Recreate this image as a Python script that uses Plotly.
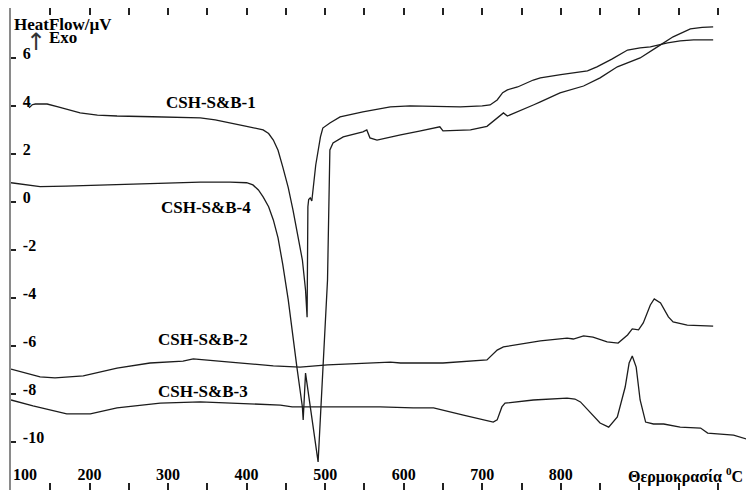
import plotly.graph_objects as go

# ---- data (temperature in °C, heat flow in µV) ----
temp_1 = [123, 127, 131, 146, 160, 175, 188, 210, 235, 280, 341, 360, 379, 400, 421, 428, 434, 440, 446, 453,
          459, 465, 471, 475, 477, 478, 479, 481, 483, 488, 494, 497, 506, 519, 548, 583, 608, 640, 672, 700,
          710, 719, 726, 732, 745, 765, 774, 800, 834, 846, 865, 885, 901, 914, 936, 952, 969, 994]
hf_1 = [3.92, 4.05, 4.08, 4.08, 3.96, 3.83, 3.71, 3.62, 3.58, 3.55, 3.50, 3.42, 3.30, 3.15, 3.00, 2.85, 2.58, 2.15, 1.46, 0.60,
        -0.33, -1.30, -2.42, -3.67, -4.80, -0.20, 0.10, 0.17, 0.04, 1.54, 2.71, 3.08, 3.29, 3.54, 3.75, 3.96, 4.00, 3.98, 3.96, 4.00,
        4.04, 4.25, 4.55, 4.67, 4.79, 5.08, 5.17, 5.30, 5.46, 5.63, 5.95, 6.33, 6.42, 6.46, 6.63, 6.71, 6.75, 6.75]

temp_4 = [100, 120, 137, 170, 213, 280, 341, 379, 400, 408, 415, 421, 428, 434, 440, 446, 453, 464, 471, 472,
          475, 491, 503, 506, 510, 523, 548, 553, 557, 566, 583, 596, 620, 646, 650, 685, 706, 719, 727, 732,
          745, 765, 774, 799, 829, 850, 872, 901, 923, 943, 965, 980, 994]
hf_4 = [0.80, 0.70, 0.64, 0.66, 0.71, 0.78, 0.83, 0.83, 0.80, 0.71, 0.50, 0.21, -0.20, -0.75, -1.50, -2.60, -4.08, -6.88, -8.54, -9.08,
        -7.13, -10.83, -3.25, 2.17, 2.46, 2.71, 2.92, 3.00, 2.67, 2.58, 2.71, 2.79, 2.95, 3.13, 2.96, 3.00, 3.15, 3.50, 3.71, 3.58,
        3.75, 4.04, 4.17, 4.54, 4.83, 5.17, 5.63, 6.00, 6.46, 6.88, 7.21, 7.27, 7.29]

temp_2 = [100, 137, 156, 192, 235, 277, 319, 332, 379, 434, 468, 503, 583, 596, 650, 706, 719, 727, 774, 808,
          816, 829, 841, 859, 873, 885, 891, 899, 905, 914, 919, 927, 937, 943, 961, 994]
hf_2 = [-6.96, -7.29, -7.33, -7.25, -6.92, -6.71, -6.63, -6.54, -6.67, -6.83, -6.88, -6.79, -6.67, -6.71, -6.71, -6.58, -6.17, -6.04, -5.79, -5.67,
        -5.71, -5.58, -5.63, -5.83, -5.88, -5.54, -5.29, -5.33, -5.04, -4.29, -4.04, -4.21, -4.79, -5.00, -5.13, -5.17]

temp_3 = [100, 128, 171, 201, 235, 264, 290, 341, 443, 458, 570, 612, 638, 676, 714, 719, 725, 729, 765, 808,
          818, 825, 838, 850, 861, 872, 882, 887, 891, 896, 901, 908, 918, 931, 952, 978, 987, 1020, 1045]
hf_3 = [-8.25, -8.50, -8.83, -8.83, -8.58, -8.46, -8.38, -8.33, -8.46, -8.54, -8.54, -8.58, -8.58, -8.88, -9.17, -9.08, -8.54, -8.38, -8.25, -8.17,
        -8.21, -8.33, -8.79, -9.21, -9.38, -8.96, -7.71, -6.71, -6.42, -6.88, -8.25, -9.17, -9.25, -9.25, -9.38, -9.42, -9.63, -9.71, -9.96]

series_names = ["CSH-S&B-1", "CSH-S&B-4", "CSH-S&B-2", "CSH-S&B-3"]
label_temp = [295, 289, 285, 284]
label_hf = [4.15, -0.25, -5.75, -7.9]

x_tick_vals = list(range(100, 1001, 50))
x_tick_text = ["\u00a0" * 7 + "100", "", "200", "", "300", "", "400", "", "500", "", "600", "", "700", "", "800",
               "", "", "", ""]
y_tick_vals = [-10, -8, -6, -4, -2, 0, 2, 4, 6]
y_tick_text = ["-10", "-8", "-6", "-4", "-2", "0", "2", "4", "6"]

y_title = "HeatFlow/µV"
exo_text = "Exo"
x_title = "Θερμοκρασία <sup>0</sup>C"

FONT = "Liberation Serif"
LINE = "#1c1c1c"

fig = go.Figure()
for t, v in [(temp_1, hf_1), (temp_4, hf_4), (temp_2, hf_2), (temp_3, hf_3)]:
    fig.add_trace(go.Scatter(x=t, y=v, mode="lines", line=dict(color=LINE, width=1.3), hoverinfo="skip"))

for name, lt, lh in zip(series_names, label_temp, label_hf):
    fig.add_annotation(x=lt, y=lh, xref="x", yref="y", text=name, showarrow=False,
                       xanchor="left", yanchor="middle",
                       font=dict(family=FONT, size=17, color="black", weight="bold"))

fig.add_annotation(x=0.002, y=0.966, xref="paper", yref="paper", text=y_title, showarrow=False,
                   xanchor="left", yanchor="middle", font=dict(family=FONT, size=17, color="black", weight="bold"))
fig.add_annotation(x=0.048, y=0.938, xref="paper", yref="paper", text=exo_text, showarrow=False,
                   xanchor="left", yanchor="middle", font=dict(family=FONT, size=17, color="black", weight="bold"))
fig.add_annotation(x=0.0336, y=0.929, xref="paper", yref="paper", text="↑", showarrow=False,
                   xanchor="center", yanchor="middle", font=dict(family="DejaVu Sans", size=24, color="#333333"))
fig.add_annotation(x=0.828, y=0.03, xref="paper", yref="paper", text=x_title, showarrow=False,
                   xanchor="left", yanchor="middle", font=dict(family=FONT, size=16, color="black", weight="bold"))

# The page body keeps its default 8px margin, so the figure is sized and
# margined to put the plot area at x 11..754, y 8..490 of the window.
fig.update_layout(
    width=746, height=482,
    margin=dict(l=3, r=0, t=0, b=0),
    plot_bgcolor="white", paper_bgcolor="white",
    showlegend=False,
    xaxis=dict(range=[100, 1046], showgrid=False, zeroline=False, showline=True, linecolor="#8a8a8a",
               linewidth=2, mirror="ticks", ticks="inside", ticklen=7, tickwidth=1.5, tickcolor="#222222",
               tickvals=x_tick_vals, ticktext=x_tick_text, ticklabelposition="inside",
               ticklabelstandoff=0, ticklabeloverflow="allow", automargin=False,
               tickfont=dict(family=FONT, size=16, color="black", weight="bold")),
    yaxis=dict(range=[-12, 8.08], showgrid=False, zeroline=False, showline=True, linecolor="#8a8a8a",
               linewidth=2, ticks="inside", ticklen=5, tickwidth=1.5, tickcolor="#222222",
               tickvals=y_tick_vals, ticktext=y_tick_text, ticklabelposition="inside",
               ticklabelshift=-5, ticklabelstandoff=7, automargin=False, ticklabeloverflow="allow",
               tickfont=dict(family=FONT, size=16, color="black", weight="bold")),
)

fig.write_html("out.html")
